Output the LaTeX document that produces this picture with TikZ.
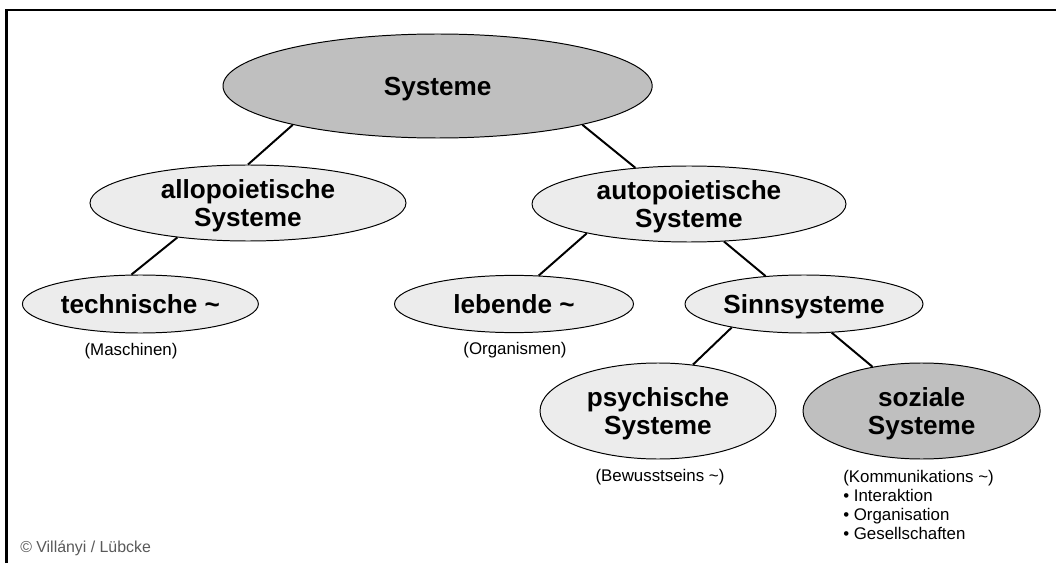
\documentclass[tikz,border=0pt]{standalone}
\usepackage{fontspec}
\setmainfont{Liberation Sans}
\usetikzlibrary{shapes.geometric}

\begin{document}
\begin{tikzpicture}[
	sys/.style={ellipse, draw, line width=0.7pt, inner sep=0pt, align=center, text depth=0pt, font=\fontsize{18.6}{20}\selectfont\bfseries},
	light/.style={sys, fill=gray!15},
	dark/.style={sys, fill=gray!50},
	note/.style={inner sep=0pt, font=\fontsize{12}{13.5}\selectfont},
	link/.style={line width=1.4pt}]
	\useasboundingbox (0,0) rectangle (26.4,14.075);
	\draw [line width=1.5pt] (0.1625,0) -- (0.1625,13.825) -- (26.4,13.825);
	\node [dark, minimum width=10.73cm, minimum height=2.6cm] (sys) at (10.94,11.925) {Systeme};
	\node [light, minimum width=7.9cm, minimum height=1.9cm] (allo) at (6.2,9) {allopoietische\\Systeme};
	\node [light, minimum width=7.85cm, minimum height=1.9cm] (auto) at (17.225,8.975) {autopoietische\\Systeme};
	\node [light, minimum width=5.9cm, minimum height=1.45cm] (tech) at (3.51,6.475) {technische \textasciitilde};
	\node [light, minimum width=5.975cm, minimum height=1.43cm] (leb) at (12.85,6.475) {lebende \textasciitilde};
	\node [light, minimum width=5.95cm, minimum height=1.45cm] (sinn) at (20.1,6.475) {Sinnsysteme};
	\node [light, minimum width=5.9cm, minimum height=2.4cm] (psych) at (16.45,3.8) {psychische\\Systeme};
	\node [dark, minimum width=5.93cm, minimum height=2.4cm] (soz) at (23.04,3.8) {soziale\\Systeme};
	\node [note] (masch) at (3.275,5.3) {(Maschinen)};
	\node [note] (org) at (12.875,5.325) {(Organismen)};
	\node [note] (bew) at (16.5,2.15) {(Bewusstseins \textasciitilde)};
	\node [note, anchor=north west, align=left] (komm) at (21.075,2.325) {(Kommunikations \textasciitilde)\\• Interaktion\\• Organisation\\• Gesellschaften};
	\node [note, anchor=west, text=black!65, font=\fontsize{11.3}{13}\selectfont] (copy) at (0.5,0.375) {© Villányi / Lübcke};
	\draw [link] (sys.195) -- (allo.90);
	\draw [link] (allo.206) -- (tech.107);
	\draw [link] (sys.345) -- (auto.146);
	\draw [link] (auto.196) -- (leb.49);
	\draw [link] (auto.313) -- (sinn.144);
	\draw [link] (sinn.198) -- (psych.53);
	\draw [link] (sinn.314) -- (soz.138);
\end{tikzpicture}
\end{document}
